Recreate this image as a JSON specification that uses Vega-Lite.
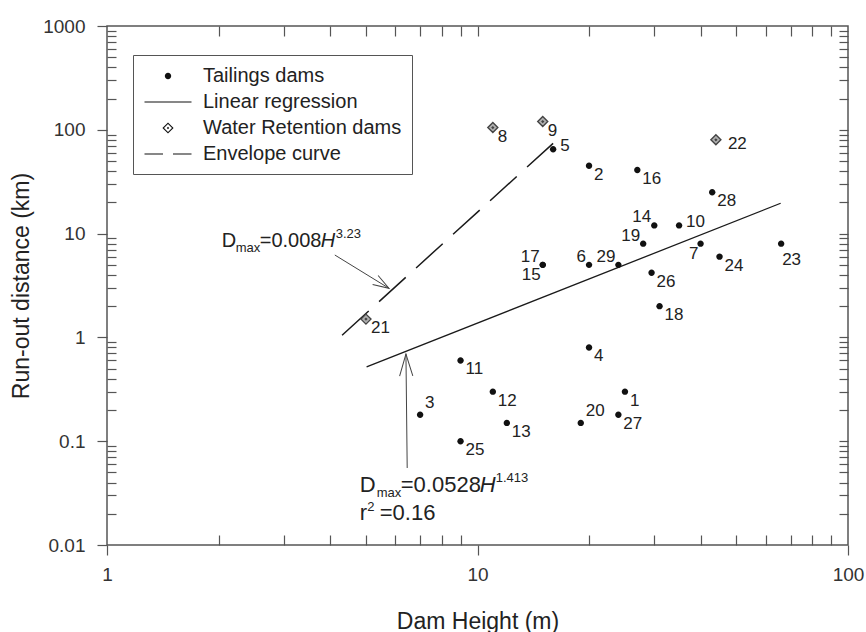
{
  "$schema": "https://vega.github.io/schema/vega-lite/v6.json",
  "width": 741,
  "height": 519,
  "autosize": "none",
  "padding": {"left": 107, "top": 26, "right": 18, "bottom": 87},
  "background": "white",
  "config": {
    "view": {"stroke": "#555", "strokeWidth": 1.5},
    "font": "Liberation Sans",
    "axis": {
      "labelFont": "Liberation Sans", "labelFontSize": 19, "labelColor": "#333",
      "tickColor": "#555", "tickWidth": 1.2, "domain": false, "grid": false,
      "titleFont": "Liberation Sans", "titleFontSize": 23, "titleFontWeight": "normal", "titleColor": "#222",
      "labelFlush": false
    }
  },
  "datasets": {
    "points": [
      {"id": "1", "x": 25, "y": 0.3, "type": "T", "pos": "lr"},
      {"id": "2", "x": 20, "y": 45, "type": "T", "pos": "lr"},
      {"id": "3", "x": 7, "y": 0.18, "type": "T", "pos": "ur"},
      {"id": "4", "x": 20, "y": 0.8, "type": "T", "pos": "lr"},
      {"id": "5", "x": 16, "y": 65, "type": "T", "pos": "r"},
      {"id": "6", "x": 20, "y": 5, "type": "T", "pos": "ul"},
      {"id": "7", "x": 40, "y": 8, "type": "T", "pos": "ll"},
      {"id": "10", "x": 35, "y": 12, "type": "T", "pos": "r"},
      {"id": "11", "x": 9, "y": 0.6, "type": "T", "pos": "lr"},
      {"id": "12", "x": 11, "y": 0.3, "type": "T", "pos": "lr"},
      {"id": "13", "x": 12, "y": 0.15, "type": "T", "pos": "lr"},
      {"id": "14", "x": 30, "y": 12, "type": "T", "pos": "ul"},
      {"id": "15", "x": 15, "y": 5, "type": "T", "pos": "ll"},
      {"id": "16", "x": 27, "y": 41, "type": "T", "pos": "lr"},
      {"id": "17", "x": 15, "y": 5, "type": "T", "pos": "ul"},
      {"id": "18", "x": 31, "y": 2, "type": "T", "pos": "lr"},
      {"id": "19", "x": 28, "y": 8, "type": "T", "pos": "ul"},
      {"id": "20", "x": 19, "y": 0.15, "type": "T", "pos": "ur"},
      {"id": "23", "x": 66, "y": 8, "type": "T", "pos": "b"},
      {"id": "24", "x": 45, "y": 6, "type": "T", "pos": "lr"},
      {"id": "25", "x": 9, "y": 0.1, "type": "T", "pos": "lr"},
      {"id": "26", "x": 29.5, "y": 4.2, "type": "T", "pos": "lr"},
      {"id": "27", "x": 24, "y": 0.18, "type": "T", "pos": "lr"},
      {"id": "28", "x": 43, "y": 25, "type": "T", "pos": "lr"},
      {"id": "29", "x": 24, "y": 5, "type": "T", "pos": "ul"},
      {"id": "8", "x": 11, "y": 105, "type": "W", "pos": "lr"},
      {"id": "9", "x": 15, "y": 120, "type": "W", "pos": "lr"},
      {"id": "21", "x": 5, "y": 1.5, "type": "W", "pos": "lr"},
      {"id": "22", "x": 44, "y": 80, "type": "W", "pos": "r2"}
    ],
    "regression": [{"x": 5.02, "y": 0.52}, {"x": 65.8, "y": 19.6}],
    "envelope": [{"x": 4.31, "y": 1.05}, {"x": 16.0, "y": 74}],
    "arrows": [
      {"id": "env", "x": 4.12, "y": 6.22, "end": "tail"},
      {"id": "env", "x": 5.77, "y": 2.97, "end": "head"},
      {"id": "reg", "x": 6.46, "y": 0.0552, "end": "tail"},
      {"id": "reg", "x": 6.41, "y": 0.692, "end": "head"}
    ],
    "ann": [
      {"id": "env", "x": 2.04, "y": 7.48},
      {"id": "reg", "x": 4.81, "y": 0.0326},
      {"id": "r2", "x": 4.81, "y": 0.0174}
    ]
  },
  "resolve": {"axis": {"x": "independent", "y": "independent"}},
  "encoding": {
    "x": {"field": "x", "type": "quantitative", "scale": {"type": "log", "domain": [1, 100]}, "axis": null},
    "y": {"field": "y", "type": "quantitative", "scale": {"type": "log", "domain": [0.01, 1000]}, "axis": null}
  },
  "layer": [
    {
      "data": {"name": "regression"},
      "mark": {"type": "line", "color": "#1a1a1a", "strokeWidth": 1.3},
      "encoding": {
        "x": {"field": "x", "type": "quantitative", "scale": {"type": "log", "domain": [1, 100]},
          "axis": {"orient": "bottom", "values": [1, 10, 100], "format": "~g", "tickSize": 10, "labelPadding": 10, "title": "Dam Height (m)", "titlePadding": 26}},
        "y": {"field": "y", "type": "quantitative", "scale": {"type": "log", "domain": [0.01, 1000]},
          "axis": {"orient": "left", "values": [0.01, 0.1, 1, 10, 100, 1000], "format": "~g", "tickSize": 10, "labelPadding": 12, "title": "Run-out distance (km)", "titlePadding": 9}}
      }
    },
    {
      "data": {"name": "envelope"},
      "mark": {"type": "line", "color": "#1a1a1a", "strokeWidth": 1.5, "strokeDash": [36, 14]},
      "encoding": {
        "x": {"field": "x", "type": "quantitative", "scale": {"type": "log", "domain": [1, 100]},
          "axis": {"orient": "bottom", "values": [2, 3, 4, 5, 6, 7, 8, 9, 20, 30, 40, 50, 60, 70, 80, 90], "tickSize": -10, "labels": false, "title": null}},
        "y": {"field": "y", "type": "quantitative", "scale": {"type": "log", "domain": [0.01, 1000]},
          "axis": {"orient": "left", "values": [0.02, 0.03, 0.04, 0.05, 0.06, 0.07, 0.08, 0.09, 0.2, 0.3, 0.4, 0.5, 0.6, 0.7, 0.8, 0.9, 2, 3, 4, 5, 6, 7, 8, 9, 20, 30, 40, 50, 60, 70, 80, 90, 200, 300, 400, 500, 600, 700, 800, 900], "tickSize": -9, "labels": false, "title": null}}
      }
    },
    {
      "data": {"name": "points"},
      "transform": [{"filter": "datum.type === 'W'"}],
      "mark": {"type": "point", "shape": "M0,-0.5L0.5,0L0,0.5L-0.5,0ZM0,-0.07L0.07,0L0,0.07L-0.07,0Z", "filled": true, "fill": "#b0b0b0", "stroke": "#444", "strokeWidth": 1.4, "size": 400, "opacity": 1}
    },
    {
      "data": {"name": "points"},
      "transform": [{"filter": "datum.type === 'T'"}],
      "mark": {"type": "point", "filled": true, "color": "#111", "size": 400, "opacity": 1},
      "encoding": {
        "x": {"field": "x", "type": "quantitative", "scale": {"type": "log", "domain": [1, 100]},
          "axis": {"orient": "top", "values": [2, 3, 4, 5, 6, 7, 8, 9, 10, 20, 30, 40, 50, 60, 70, 80, 90], "tickSize": -10, "labels": false, "title": null}},
        "y": {"field": "y", "type": "quantitative", "scale": {"type": "log", "domain": [0.01, 1000]},
          "axis": {"orient": "right", "values": [0.02, 0.03, 0.04, 0.05, 0.06, 0.07, 0.08, 0.09, 0.1, 0.2, 0.3, 0.4, 0.5, 0.6, 0.7, 0.8, 0.9, 1, 2, 3, 4, 5, 6, 7, 8, 9, 10, 20, 30, 40, 50, 60, 70, 80, 90, 100, 200, 300, 400, 500, 600, 700, 800, 900], "tickSize": -9, "labels": false, "title": null}},
        "shape": {
          "datum": "Tailings dams", "type": "nominal",
          "scale": {
            "domain": ["Tailings dams", "Linear regression", "Water Retention dams", "Envelope curve"],
            "range": [
              "M-0.32,0A0.32,0.32,0,1,0,0.32,0A0.32,0.32,0,1,0,-0.32,0Z",
              "M-2.35,-0.06L2.35,-0.06L2.35,0.06L-2.35,0.06Z",
              "M0,-0.56L0.56,0L0,0.56L-0.56,0ZM0,-0.4L-0.4,0L0,0.4L0.4,0ZM0,-0.12L0.12,0L0,0.12L-0.12,0Z",
              "M-2.35,-0.06L-0.5,-0.06L-0.5,0.06L-2.35,0.06ZM0.5,-0.06L2.35,-0.06L2.35,0.06L0.5,0.06Z"
            ]
          },
          "legend": {
            "title": null, "orient": "none", "legendX": 26, "legendY": 29,
            "padding": 10, "symbolOffset": 14, "labelOffset": 24, "rowPadding": 5,
            "symbolSize": 400,
            "labelFont": "Liberation Sans", "labelFontSize": 20, "labelColor": "#222", "labelLimit": 400,
            "strokeColor": "#555", "fillColor": "white"
          }
        }
      }
    },
    {
      "data": {"name": "arrows"},
      "mark": {"type": "line", "color": "#444", "strokeWidth": 1},
      "encoding": {"detail": {"field": "id", "type": "nominal"}}
    },
    {
      "data": {"name": "arrows"},
      "transform": [{"filter": "datum.id === 'env' && datum.end === 'head'"}],
      "mark": {"type": "point", "shape": "M-1,-0.33L0,0L-1,0.33", "size": 1024, "angle": 31.5, "filled": false, "stroke": "#444", "strokeWidth": 1, "opacity": 1}
    },
    {
      "data": {"name": "arrows"},
      "transform": [{"filter": "datum.id === 'reg' && datum.end === 'head'"}],
      "mark": {"type": "point", "shape": "M-1,-0.3L0,0L-1,0.3", "size": 1936, "angle": -90.7, "filled": false, "stroke": "#444", "strokeWidth": 1, "opacity": 1}
    },
    {
      "data": {"name": "points"},
      "transform": [{"filter": "datum.pos === 'lr'"}],
      "mark": {"type": "text", "align": "left", "baseline": "middle", "dx": 5, "dy": 9, "fontSize": 17, "color": "#222"},
      "encoding": {"text": {"field": "id"}}
    },
    {
      "data": {"name": "points"},
      "transform": [{"filter": "datum.pos === 'r'"}],
      "mark": {"type": "text", "align": "left", "baseline": "middle", "dx": 7, "dy": -3, "fontSize": 17, "color": "#222"},
      "encoding": {"text": {"field": "id"}}
    },
    {
      "data": {"name": "points"},
      "transform": [{"filter": "datum.pos === 'r2'"}],
      "mark": {"type": "text", "align": "left", "baseline": "middle", "dx": 12, "dy": 4, "fontSize": 17, "color": "#222"},
      "encoding": {"text": {"field": "id"}}
    },
    {
      "data": {"name": "points"},
      "transform": [{"filter": "datum.pos === 'ul'"}],
      "mark": {"type": "text", "align": "right", "baseline": "middle", "dx": -3, "dy": -8, "fontSize": 17, "color": "#222"},
      "encoding": {"text": {"field": "id"}}
    },
    {
      "data": {"name": "points"},
      "transform": [{"filter": "datum.pos === 'll'"}],
      "mark": {"type": "text", "align": "right", "baseline": "middle", "dx": -2, "dy": 10, "fontSize": 17, "color": "#222"},
      "encoding": {"text": {"field": "id"}}
    },
    {
      "data": {"name": "points"},
      "transform": [{"filter": "datum.pos === 'ur'"}],
      "mark": {"type": "text", "align": "left", "baseline": "middle", "dx": 5, "dy": -12, "fontSize": 17, "color": "#222"},
      "encoding": {"text": {"field": "id"}}
    },
    {
      "data": {"name": "points"},
      "transform": [{"filter": "datum.pos === 'b'"}],
      "mark": {"type": "text", "align": "left", "baseline": "middle", "dx": 1, "dy": 16, "fontSize": 17, "color": "#222"},
      "encoding": {"text": {"field": "id"}}
    },
    {"data": {"name": "ann"}, "transform": [{"filter": "datum.id === 'env'"}],
      "mark": {"type": "text", "text": "D", "align": "left", "baseline": "alphabetic", "fontSize": 20, "color": "#222"}},
    {"data": {"name": "ann"}, "transform": [{"filter": "datum.id === 'env'"}],
      "mark": {"type": "text", "text": "max", "align": "left", "baseline": "alphabetic", "dx": 14, "dy": 5, "fontSize": 13, "color": "#222"}},
    {"data": {"name": "ann"}, "transform": [{"filter": "datum.id === 'env'"}],
      "mark": {"type": "text", "text": "=0.008", "align": "left", "baseline": "alphabetic", "dx": 38, "fontSize": 20, "color": "#222"}},
    {"data": {"name": "ann"}, "transform": [{"filter": "datum.id === 'env'"}],
      "mark": {"type": "text", "text": "H", "align": "left", "baseline": "alphabetic", "dx": 99, "fontSize": 20, "fontStyle": "italic", "color": "#222"}},
    {"data": {"name": "ann"}, "transform": [{"filter": "datum.id === 'env'"}],
      "mark": {"type": "text", "text": "3.23", "align": "left", "baseline": "alphabetic", "dx": 114, "dy": -9, "fontSize": 13, "color": "#222"}},
    {"data": {"name": "ann"}, "transform": [{"filter": "datum.id === 'reg'"}],
      "mark": {"type": "text", "text": "D", "align": "left", "baseline": "alphabetic", "fontSize": 22, "color": "#222"}},
    {"data": {"name": "ann"}, "transform": [{"filter": "datum.id === 'reg'"}],
      "mark": {"type": "text", "text": "max", "align": "left", "baseline": "alphabetic", "dx": 17, "dy": 5, "fontSize": 13, "color": "#222"}},
    {"data": {"name": "ann"}, "transform": [{"filter": "datum.id === 'reg'"}],
      "mark": {"type": "text", "text": "=0.0528", "align": "left", "baseline": "alphabetic", "dx": 41, "fontSize": 22, "color": "#222"}},
    {"data": {"name": "ann"}, "transform": [{"filter": "datum.id === 'reg'"}],
      "mark": {"type": "text", "text": "H", "align": "left", "baseline": "alphabetic", "dx": 120, "fontSize": 22, "fontStyle": "italic", "color": "#222"}},
    {"data": {"name": "ann"}, "transform": [{"filter": "datum.id === 'reg'"}],
      "mark": {"type": "text", "text": "1.413", "align": "left", "baseline": "alphabetic", "dx": 136, "dy": -10, "fontSize": 13, "color": "#222"}},
    {"data": {"name": "ann"}, "transform": [{"filter": "datum.id === 'r2'"}],
      "mark": {"type": "text", "text": "r", "align": "left", "baseline": "alphabetic", "fontSize": 22, "color": "#222"}},
    {"data": {"name": "ann"}, "transform": [{"filter": "datum.id === 'r2'"}],
      "mark": {"type": "text", "text": "2", "align": "left", "baseline": "alphabetic", "dx": 7.5, "dy": -9, "fontSize": 13, "color": "#222"}},
    {"data": {"name": "ann"}, "transform": [{"filter": "datum.id === 'r2'"}],
      "mark": {"type": "text", "text": "=0.16", "align": "left", "baseline": "alphabetic", "dx": 20, "fontSize": 22, "color": "#222"}}
  ]
}
